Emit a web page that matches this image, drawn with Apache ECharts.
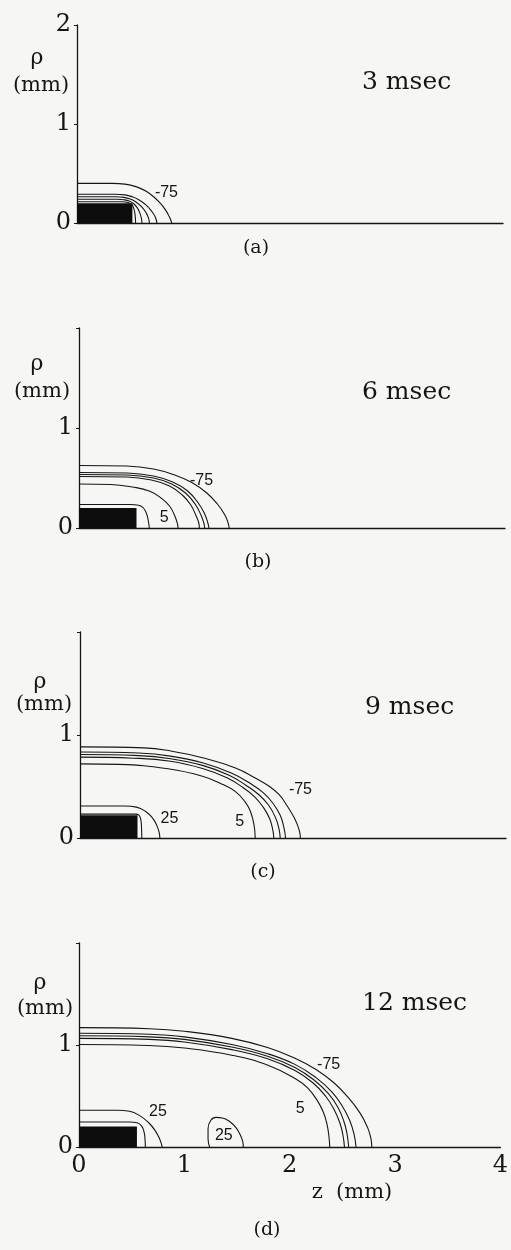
<!DOCTYPE html>
<html>
<head>
<meta charset="utf-8">
<script src="https://cdn.jsdelivr.net/npm/echarts@6/dist/echarts.min.js"></script>
<style>
  html, body { margin: 0; padding: 0; background: #f6f6f4; }
  #chart { width: 511px; height: 1250px; }
</style>
</head>
<body>
<div id="chart"></div>
<script>
// Axis ticks (mm)
const zTicks = [0, 1, 2, 3, 4];
const rhoTicks = [0, 1, 2];

// Snapshot times and panel tags
const times = ['3 msec', '6 msec', '9 msec', '12 msec'];
const panelTags = ['(a)', '(b)', '(c)', '(d)'];

// Electrode block: [z start, z end, rho top] in mm
const electrodeA = [0, 0.52, 0.20];
const electrodeB = [0, 0.54, 0.20];
const electrodeC = [0, 0.54, 0.22];
const electrodeD = [0, 0.55, 0.20];

// Isotherm contours, each a list of [z, rho] points (mm), outermost first
const contoursA = [
  [[0, 0.40], [0.33, 0.40], [0.45, 0.393], [0.56, 0.365], [0.65, 0.32], [0.73, 0.255], [0.79, 0.19], [0.835, 0.125], [0.866, 0.065], [0.882, 0.025], [0.89, 0]],
  [[0, 0.29], [0.35, 0.29], [0.45, 0.284], [0.52, 0.265], [0.58, 0.235], [0.65, 0.18], [0.70, 0.12], [0.735, 0.06], [0.75, 0]],
  [[0, 0.265], [0.36, 0.265], [0.44, 0.259], [0.50, 0.242], [0.55, 0.215], [0.61, 0.16], [0.65, 0.10], [0.672, 0.05], [0.68, 0]],
  [[0, 0.24], [0.38, 0.24], [0.44, 0.235], [0.49, 0.222], [0.53, 0.197], [0.565, 0.155], [0.592, 0.095], [0.605, 0.045], [0.61, 0]],
  [[0, 0.215], [0.42, 0.215], [0.48, 0.207], [0.515, 0.185], [0.535, 0.14], [0.546, 0.075], [0.55, 0]]
];

const contoursB = [
  [[0, 0.625], [0.45, 0.62], [0.70, 0.59], [0.90, 0.53], [1.06, 0.455], [1.20, 0.35], [1.30, 0.24], [1.37, 0.13], [1.40, 0.05], [1.41, 0]],
  [[0, 0.555], [0.45, 0.55], [0.70, 0.52], [0.88, 0.46], [1.02, 0.37], [1.12, 0.25], [1.18, 0.14], [1.21, 0.05], [1.22, 0]],
  [[0, 0.535], [0.45, 0.53], [0.70, 0.50], [0.87, 0.44], [1.00, 0.35], [1.09, 0.24], [1.145, 0.13], [1.172, 0.05], [1.18, 0]],
  [[0, 0.515], [0.45, 0.51], [0.68, 0.48], [0.85, 0.42], [0.97, 0.33], [1.05, 0.23], [1.10, 0.12], [1.125, 0.05], [1.13, 0]],
  [[0, 0.44], [0.30, 0.435], [0.50, 0.41], [0.66, 0.37], [0.77, 0.30], [0.85, 0.22], [0.90, 0.12], [0.925, 0.04], [0.93, 0]],
  [[0, 0.235], [0.48, 0.235], [0.56, 0.227], [0.605, 0.2], [0.635, 0.14], [0.652, 0.065], [0.66, 0]]
];

const contoursC = [
  [[0, 0.885], [0.60, 0.875], [0.85, 0.845], [1.15, 0.78], [1.46, 0.68], [1.65, 0.58], [1.78, 0.50], [1.87, 0.42], [1.94, 0.32], [2.02, 0.18], [2.06, 0.07], [2.07, 0]],
  [[0, 0.835], [0.55, 0.825], [0.85, 0.795], [1.15, 0.73], [1.42, 0.63], [1.60, 0.53], [1.72, 0.44], [1.81, 0.34], [1.88, 0.22], [1.915, 0.10], [1.93, 0]],
  [[0, 0.81], [0.55, 0.80], [0.85, 0.77], [1.15, 0.705], [1.40, 0.61], [1.56, 0.51], [1.68, 0.42], [1.77, 0.32], [1.835, 0.20], [1.868, 0.09], [1.88, 0]],
  [[0, 0.785], [0.50, 0.775], [0.85, 0.745], [1.15, 0.675], [1.38, 0.585], [1.53, 0.49], [1.64, 0.40], [1.72, 0.30], [1.78, 0.19], [1.81, 0.08], [1.82, 0]],
  [[0, 0.72], [0.37, 0.715], [0.84, 0.67], [1.15, 0.60], [1.32, 0.53], [1.46, 0.45], [1.55, 0.35], [1.60, 0.26], [1.635, 0.12], [1.645, 0]],
  [[0, 0.31], [0.42, 0.31], [0.53, 0.3], [0.62, 0.255], [0.68, 0.195], [0.72, 0.125], [0.743, 0.055], [0.75, 0]],
  [[0, 0.232], [0.52, 0.232], [0.553, 0.222], [0.571, 0.175], [0.578, 0.09], [0.58, 0]]
];

const contoursD = [
  [[0, 1.17], [0.67, 1.16], [1.0, 1.135], [1.45, 1.065], [1.79, 0.975], [2.05, 0.87], [2.25, 0.76], [2.42, 0.63], [2.56, 0.48], [2.67, 0.33], [2.74, 0.19], [2.77, 0.09], [2.78, 0]],
  [[0, 1.115], [0.67, 1.105], [1.0, 1.08], [1.45, 1.005], [1.79, 0.915], [2.05, 0.81], [2.25, 0.68], [2.40, 0.54], [2.50, 0.40], [2.57, 0.26], [2.61, 0.13], [2.63, 0]],
  [[0, 1.09], [0.67, 1.08], [1.0, 1.055], [1.45, 0.98], [1.79, 0.89], [2.05, 0.78], [2.24, 0.65], [2.37, 0.52], [2.46, 0.385], [2.515, 0.25], [2.545, 0.125], [2.56, 0]],
  [[0, 1.065], [0.67, 1.055], [1.0, 1.03], [1.45, 0.955], [1.79, 0.865], [2.05, 0.75], [2.22, 0.63], [2.34, 0.50], [2.42, 0.37], [2.475, 0.24], [2.505, 0.12], [2.52, 0]],
  [[0, 1.005], [0.65, 0.995], [1.0, 0.97], [1.45, 0.90], [1.80, 0.80], [2.07, 0.66], [2.17, 0.58], [2.26, 0.46], [2.32, 0.34], [2.355, 0.22], [2.373, 0.10], [2.38, 0]],
  [[0, 0.36], [0.36, 0.36], [0.48, 0.35], [0.58, 0.305], [0.66, 0.24], [0.72, 0.165], [0.765, 0.08], [0.79, 0]],
  [[0, 0.245], [0.48, 0.245], [0.55, 0.238], [0.595, 0.205], [0.618, 0.145], [0.627, 0.07], [0.63, 0]],
  [[1.24, 0], [1.225, 0.08], [1.225, 0.18], [1.25, 0.26], [1.30, 0.29], [1.36, 0.285], [1.43, 0.25], [1.49, 0.19], [1.53, 0.12], [1.555, 0.05], [1.56, 0]]
];

// Contour value tags: [z, rho, text]
const tagsA = [[0.84, 0.31, '-75']];
const tagsB = [[1.15, 0.47, '-75'], [0.80, 0.10, '5']];
const tagsC = [[2.07, 0.47, '-75'], [0.84, 0.19, '25'], [1.50, 0.16, '5']];
const tagsD = [[2.37, 0.81, '-75'], [2.10, 0.38, '5'], [0.75, 0.35, '25'], [1.375, 0.11, '25']];

const panels = [
  { contours: contoursA, electrode: electrodeA, tags: tagsA },
  { contours: contoursB, electrode: electrodeB, tags: tagsB },
  { contours: contoursC, electrode: electrodeC, tags: tagsC },
  { contours: contoursD, electrode: electrodeD, tags: tagsD }
];

// Page layout (pixels)
const plotWidth = 426;
const boxes = [
  { left: 77, top: 25, height: 198 },
  { left: 79, top: 328, height: 200 },
  { left: 80, top: 632, height: 206 },
  { left: 79, top: 943, height: 204 }
];
const timePos = [[362, 82], [362, 392], [365, 707], [362, 1003]];
const tagPos = [[256, 248], [258, 562], [263, 872], [267, 1230]];
const rhoNamePos = [[37, 58], [37, 364], [40, 682], [40, 983]];
const mmNamePos = [[41, 86], [42, 392], [44, 705], [45, 1009]];

const ink = '#151515';
const serif = '"DejaVu Serif", "Liberation Serif", serif';
const sans = '"Liberation Sans", Arial, sans-serif';

const grids = [], xAxes = [], yAxes = [], series = [], graphics = [];

panels.forEach((p, i) => {
  const b = boxes[i];
  const last = i === panels.length - 1;
  grids.push({ left: b.left, top: b.top, width: plotWidth, height: b.height });
  xAxes.push({
    type: 'value', gridIndex: i,
    min: zTicks[0], max: zTicks[zTicks.length - 1], interval: zTicks[1] - zTicks[0],
    axisLine: { show: true, lineStyle: { color: ink, width: 1.3 } },
    axisTick: { show: false },
    splitLine: { show: false },
    axisLabel: {
      show: last, margin: 7, color: ink,
      fontFamily: serif, fontSize: 24
    }
  });
  yAxes.push({
    type: 'value', gridIndex: i,
    min: rhoTicks[0], max: rhoTicks[rhoTicks.length - 1], interval: rhoTicks[1] - rhoTicks[0],
    axisLine: { show: true, lineStyle: { color: ink, width: 1.3 } },
    axisTick: { show: true, length: 3, lineStyle: { color: ink, width: 1 } },
    splitLine: { show: false },
    axisLabel: {
      margin: 6, color: ink, fontFamily: serif, fontSize: 24,
      formatter: v => (i > 0 && v === rhoTicks[rhoTicks.length - 1]) ? '' : String(v)
    }
  });

  p.contours.forEach(c => {
    series.push({
      type: 'line', xAxisIndex: i, yAxisIndex: i,
      data: c, showSymbol: false, smooth: 0.45, silent: true,
      lineStyle: { color: ink, width: 1.1 }, z: 2
    });
  });

  series.push({
    type: 'custom', xAxisIndex: i, yAxisIndex: i, silent: true, z: 3,
    data: [p.electrode],
    encode: { x: [0, 1], y: 2 },
    renderItem: (params, api) => {
      const tl = api.coord([api.value(0), api.value(2)]);
      const br = api.coord([api.value(1), 0]);
      return {
        type: 'rect',
        shape: { x: tl[0], y: tl[1], width: br[0] - tl[0], height: br[1] - tl[1] },
        style: { fill: '#0d0d0d' }
      };
    }
  });

  const tags = p.tags;
  series.push({
    type: 'custom', xAxisIndex: i, yAxisIndex: i, silent: true, z: 4,
    data: tags.map(t => [t[0], t[1]]),
    encode: { x: 0, y: 1 },
    renderItem: (params, api) => {
      const pt = api.coord([api.value(0), api.value(1)]);
      return {
        type: 'text', x: pt[0], y: pt[1],
        style: {
          text: tags[params.dataIndex][2], fill: ink,
          font: '16px ' + sans, textAlign: 'center', textVerticalAlign: 'middle'
        }
      };
    }
  });

  graphics.push({
    type: 'text', x: timePos[i][0], y: timePos[i][1],
    style: { text: times[i], fill: ink, font: '25px ' + serif, textAlign: 'left', textVerticalAlign: 'middle' }
  });
  graphics.push({
    type: 'text', x: tagPos[i][0], y: tagPos[i][1],
    style: { text: panelTags[i], fill: ink, font: '19px ' + serif, textAlign: 'center', textVerticalAlign: 'middle' }
  });
  graphics.push({
    type: 'text', x: rhoNamePos[i][0], y: rhoNamePos[i][1],
    style: { text: 'ρ', fill: ink, font: '22px ' + serif, textAlign: 'center', textVerticalAlign: 'middle' }
  });
  graphics.push({
    type: 'text', x: mmNamePos[i][0], y: mmNamePos[i][1],
    style: { text: '(mm)', fill: ink, font: '21px ' + serif, textAlign: 'center', textVerticalAlign: 'middle' }
  });
});

graphics.push({
  type: 'text', x: 352, y: 1193,
  style: { text: 'z  (mm)', fill: ink, font: '21px ' + serif, textAlign: 'center', textVerticalAlign: 'middle' }
});

const chart = echarts.init(document.getElementById('chart'), null, { renderer: 'canvas' });
chart.setOption({
  backgroundColor: '#f6f6f4',
  animation: false,
  grid: grids,
  xAxis: xAxes,
  yAxis: yAxes,
  series: series,
  graphic: graphics
});
</script>
</body>
</html>
